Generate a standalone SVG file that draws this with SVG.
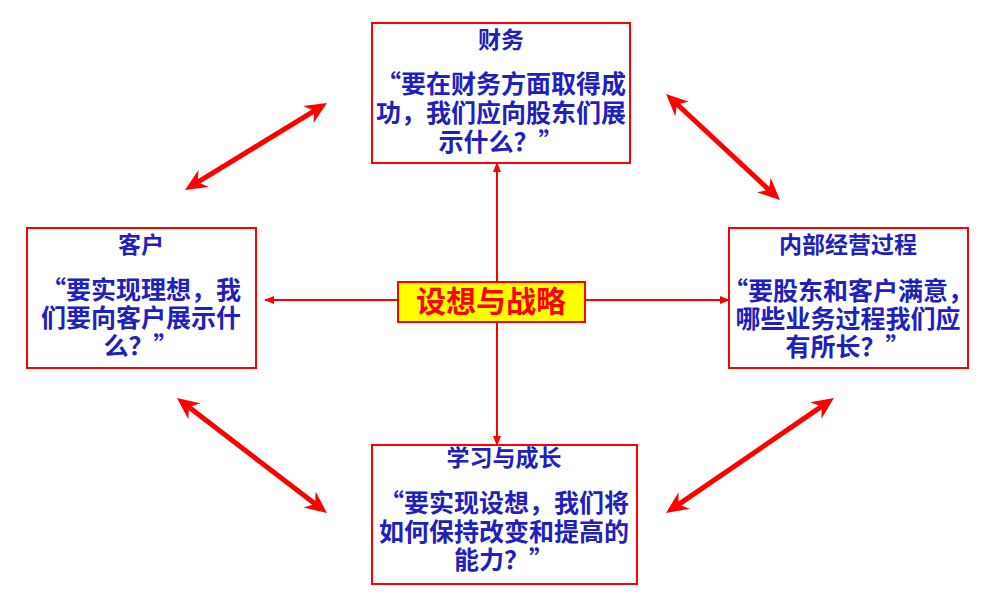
<svg xmlns="http://www.w3.org/2000/svg" width="998" height="605" viewBox="0 0 998 605">
<style>
.box{fill:#FFFFFF;stroke:#FF0000;stroke-width:2}
.core{fill:#FFFF00;stroke:#FF0000;stroke-width:2}
.t{font-family:"Noto Sans CJK SC","Noto Sans CJK TC",sans-serif;font-weight:bold;fill:#2020C0;text-anchor:middle}
.title{font-size:23px}
.body{font-size:25px}
.coretext{font-family:"Noto Sans CJK SC",sans-serif;font-weight:bold;font-size:30px;fill:#FF0000;text-anchor:middle}
.thin{stroke:#FF0000;stroke-width:2;fill:none;marker-end:url(#sa)}
.thick{stroke:#FF0000;stroke-width:5;fill:none;marker-start:url(#ba);marker-end:url(#ba)}
</style>
<defs>
<marker id="sa" viewBox="0 0 10 8" refX="9" refY="4" markerWidth="10" markerHeight="8" markerUnits="userSpaceOnUse" orient="auto"><path d="M0,0 L10,4 L0,8 Z" fill="#FF0000"/></marker>
<marker id="ba" viewBox="0 0 22 20" refX="8" refY="10" markerWidth="22" markerHeight="20" markerUnits="userSpaceOnUse" orient="auto-start-reverse"><path d="M22,10 L0,0 L7,10 L0,20 Z" fill="#FF0000"/></marker>
</defs>
<rect width="998" height="605" fill="#FFFFFF"/>
<g id="connectors">
<line class="thin" x1="497" y1="282" x2="497" y2="163"/>
<line class="thin" x1="497" y1="322" x2="497" y2="445"/>
<line class="thin" x1="399" y1="300" x2="265" y2="300"/>
<line class="thin" x1="586" y1="300" x2="729" y2="300"/>
<line class="thick" x1="196.9" y1="182.7" x2="315.1" y2="110.3"/>
<line class="thick" x1="676.3" y1="103.5" x2="769.7" y2="190.5"/>
<line class="thick" x1="188.1" y1="406.5" x2="315.9" y2="504.5"/>
<line class="thick" x1="677.6" y1="505.1" x2="822.4" y2="405.9"/>
</g>
<g id="finance">
<rect class="box" x="372" y="23" width="258" height="140"/>
<text class="t title" x="501" y="48">财务</text>
<text class="t body" x="501" y="93">“要在财务方面取得成<tspan x="501" dy="29">功，我们应向股东们展</tspan><tspan x="501" dy="29">示什么？”</tspan></text>
</g>
<g id="customer">
<rect class="box" x="27" y="228" width="229" height="140"/>
<text class="t title" x="141" y="253">客户</text>
<text class="t body" x="141" y="299">“要实现理想，我<tspan x="141" dy="28">们要向客户展示什</tspan><tspan x="141" dy="28">么？”</tspan></text>
</g>
<g id="internal">
<rect class="box" x="729" y="228" width="239" height="140"/>
<text class="t title" x="848" y="253">内部经营过程</text>
<text class="t body" x="848" y="300">“要股东和客户满意，<tspan x="848" dy="28">哪些业务过程我们应</tspan><tspan x="848" dy="28">有所长？”</tspan></text>
</g>
<g id="learning">
<rect class="box" x="372" y="445" width="265" height="139"/>
<text class="t title" x="504" y="466">学习与成长</text>
<text class="t body" x="504" y="512">“要实现设想，我们将<tspan x="504" dy="29">如何保持改变和提高的</tspan><tspan x="504" dy="28">能力？”</tspan></text>
</g>
<g id="strategy">
<rect class="core" x="398" y="282" width="187" height="40"/>
<text class="coretext" x="491" y="312">设想与战略</text>
</g>
</svg>
